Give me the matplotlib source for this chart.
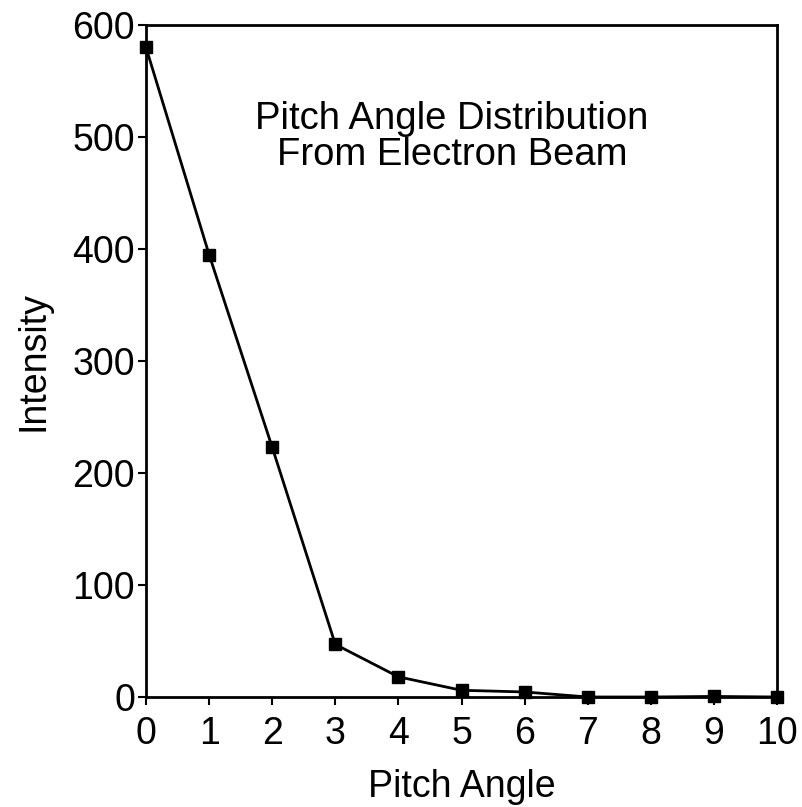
import numpy as np
import matplotlib
matplotlib.use('Agg')
import matplotlib.pyplot as plt

# valores
pitch_angle = [0, 1, 2, 3, 4, 5, 6, 7, 8, 9, 10]
intensity = [580, 395, 223, 47, 18, 6, 4.5, 0, 0, 0.5, 0]

plt.rcParams['font.family'] = ['Liberation Sans', 'DejaVu Sans']

fig = plt.figure(figsize=(8.02, 8.07), dpi=100)
ax = fig.add_axes([146 / 802, 1 - 697 / 807, (777 - 146) / 802, (697 - 25) / 807])

ax.plot(pitch_angle, intensity, color='black', lw=2,
        marker='s', markersize=9, markerfacecolor='black', clip_on=False)

ax.set_xlim(0, 10)
ax.set_ylim(0, 600)
ax.set_xticks(range(0, 11))
ax.set_yticks(range(0, 601, 100))
ax.tick_params(labelsize=27, direction='out', length=6, width=1.5)
ax.tick_params(axis='x', pad=8)
ax.tick_params(axis='y', pad=2)
for s in ax.spines.values():
    s.set_linewidth(2)

ax.set_xlabel('Pitch Angle', fontsize=27, labelpad=12)
ax.set_ylabel('Intensity', fontsize=27, labelpad=15)

ax.text(0.485, 0.834, 'Pitch Angle Distribution\nFrom Electron Beam', transform=ax.transAxes,
        ha='center', va='center', fontsize=27.5, linespacing=1.0)

fig.savefig('out.png', dpi=100)
